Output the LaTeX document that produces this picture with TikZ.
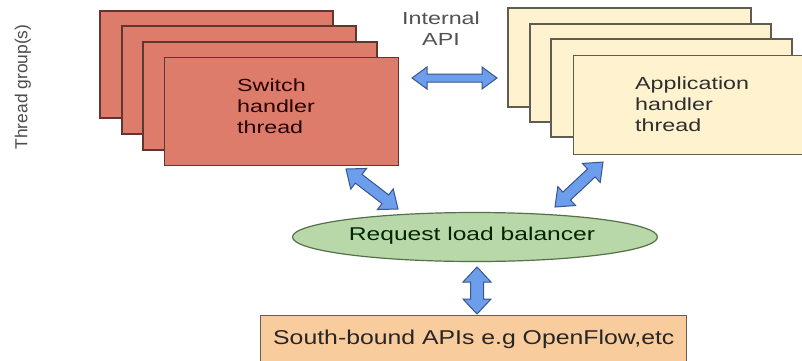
\documentclass[tikz,border=0pt]{standalone}
\usepackage{fontspec}
\setmainfont[FakeStretch=1.33]{Liberation Sans}
\newfontfamily\bfont[FakeStretch=1.24]{Liberation Sans}
\newfontfamily\pfont{Liberation Sans}
\usetikzlibrary{calc,shapes.geometric}
\definecolor{swfill}{RGB}{221,124,106}
\definecolor{swline}{RGB}{95,55,45}
\definecolor{apfill}{RGB}{255,242,206}
\definecolor{apline}{RGB}{95,92,82}
\definecolor{lbfill}{RGB}{184,216,170}
\definecolor{lbline}{RGB}{85,112,72}
\definecolor{sbfill}{RGB}{249,204,158}
\definecolor{sbline}{RGB}{105,92,82}
\definecolor{arfill}{RGB}{109,158,235}
\definecolor{arline}{RGB}{55,85,145}
\tikzset{
  swbox/.style={draw=swline, fill=swfill, line width=1.2pt},
  apbox/.style={draw=apline, fill=apfill, line width=1.2pt},
  arrowstyle/.style={draw=arline, fill=arfill, line width=1pt, line join=miter},
}
% double arrow polygon between two named coordinates
\newcommand\dblarrow[5]{%
  \coordinate (hA) at ($(#1)!#5pt!(#2)$);
  \coordinate (hB) at ($(#2)!#5pt!(#1)$);
  \filldraw[arrowstyle] (#1) -- ($(hA)!#4pt!90:(#2)$) -- ($(hA)!#3pt!90:(#2)$)
    -- ($(hB)!#3pt!-90:(#1)$) -- ($(hB)!#4pt!-90:(#1)$) -- (#2)
    -- ($(hB)!#4pt!90:(#1)$) -- ($(hB)!#3pt!90:(#1)$)
    -- ($(hA)!#3pt!-90:(#2)$) -- ($(hA)!#4pt!-90:(#2)$) -- cycle;}
\begin{document}
\begin{tikzpicture}[x=1pt,y=-1pt]
\useasboundingbox (0,0) rectangle (802,360);
\fill[white] (0,0) rectangle (802,360);
% left stack
\draw[swbox] (100,11) rectangle (333,118);
\draw[swbox] (122,26) rectangle (356,134);
\draw[swbox] (143,42) rectangle (377,150);
\node[swbox, anchor=north west, minimum width=234pt, minimum height=108pt, inner sep=0] (sw) at (164,57) {};
\node[anchor=west, align=left, inner sep=0, text=black!85!red, font=\fontsize{17.5}{21}\selectfont] (swt) at (237,106.5) {Switch\\handler\\thread};
% right stack
\draw[apbox] (508,8) rectangle (751,107);
\draw[apbox] (530,24) rectangle (771,122);
\draw[apbox] (551,39) rectangle (792,137);
\node[apbox, anchor=north west, minimum width=242pt, minimum height=99pt, inner sep=0] (ap) at (573,55) {};
\node[anchor=west, align=left, inner sep=0, text=black!82, font=\fontsize{17.5}{21}\selectfont] (apt) at (635,104.5) {Application\\handler\\thread};
% internal API label
\node[align=center, inner sep=0, text=black!68, font=\fontsize{17.5}{21}\selectfont] (api) at (441,28.5) {Internal\\API};
% load balancer
\node[ellipse, draw=lbline, fill=lbfill, line width=1.2pt, minimum width=365pt, minimum height=49pt, inner sep=0] (lb) at (475,237) {};
\node[inner sep=0, text=black!85!green, font=\fontsize{18.5}{22}\selectfont] (lbt) at (472,236) {Request load balancer};
% south-bound
\node[draw=sbline, fill=sbfill, line width=1.2pt, anchor=north west, minimum width=426pt, minimum height=60pt, inner sep=0] (sb) at (260,315) {};
\node[anchor=base west, inner sep=0, text=black!85, font=\bfont\fontsize{20}{24}\selectfont] (sbt) at (273,344) {South-bound APIs e.g OpenFlow,etc};
% thread group label
\node[rotate=90, inner sep=0, text=black!70, font=\pfont\fontsize{17.4}{20}\selectfont] (tg) at (23,87) {Thread group(s)};
% arrows
\coordinate (i1) at (412,78);
\coordinate (i2) at (497,78);
\dblarrow{i1}{i2}{4}{11}{15}
\coordinate (l1) at (346,169);
\coordinate (l2) at (398,209);
\dblarrow{l1}{l2}{5.5}{13}{16}
\coordinate (r1) at (603,162);
\coordinate (r2) at (555,207);
\dblarrow{r1}{r2}{5.5}{13}{16}
\coordinate (v1) at (477,267);
\coordinate (v2) at (477,314);
\dblarrow{v1}{v2}{6.5}{14}{15}
\end{tikzpicture}
\end{document}
